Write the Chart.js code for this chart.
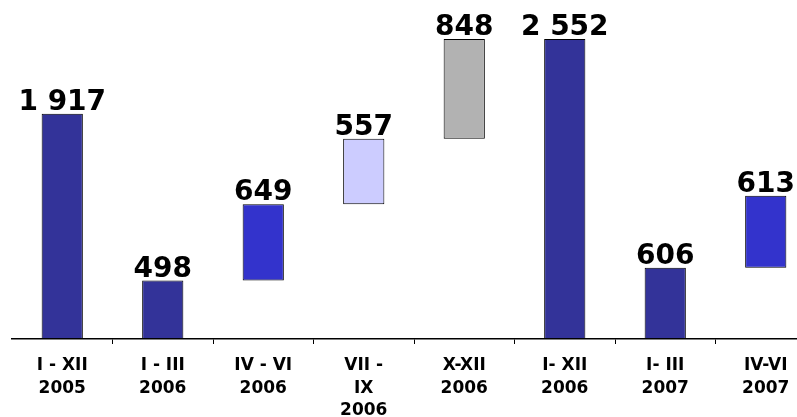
<!DOCTYPE html>
<html>
<head>
<meta charset="utf-8">
<script src="https://cdn.jsdelivr.net/npm/chart.js@4/dist/chart.umd.min.js"></script>
<style>
  html, body { margin: 0; padding: 0; background: #fff; overflow: hidden; }
  #wrap { width: 816px; height: 417px; }
</style>
</head>
<body>
<div id="wrap"><canvas id="myChart" width="816" height="417"></canvas></div>
<script>
// waterfall: each bar floats from its base
var categories = [
    ["I - XII", "2005"],
    ["I - III", "2006"],
    ["IV - VI", "2006"],
    ["VII -", "IX", "2006"],
    ["X-XII", "2006"],
    ["I- XII", "2006"],
    ["I- III", "2007"],
    ["IV-VI", "2007"]
];
var values = [1917, 498, 649, 557, 848, 2552, 606, 613];
var bases = [0, 0, 498, 1147, 1704, 0, 0, 606];
var valueLabels = ["1 917", "498", "649", "557", "848", "2 552", "606", "613"];
var barColors = ["#333399", "#333399", "#3333CC", "#CCCCFF", "#B2B2B2", "#333399", "#333399", "#3333CC"];

var floating = [];
for (var i = 0; i < values.length; i++) {
    floating.push([bases[i], bases[i] + values[i]]);
}

var topLabels = {
    id: 'topLabels',
    afterDatasetsDraw: function(chart) {
        var ctx = chart.ctx;
        var meta = chart.getDatasetMeta(0);
        ctx.save();
        ctx.font = "bold 28px 'DejaVu Sans'";
        ctx.fillStyle = "#000";
        ctx.textAlign = "center";
        ctx.textBaseline = "bottom";
        meta.data.forEach(function(bar, i) {
            ctx.fillText(valueLabels[i], bar.x, bar.y + 3);
        });
        ctx.restore();
    }
};

var ctx = document.getElementById("myChart");
var myChart = new Chart(ctx, {
    type: 'bar',
    data: {
        labels: categories,
        datasets: [{
            data: floating,
            backgroundColor: barColors,
            borderColor: "#000",
            borderWidth: 1,
            borderSkipped: false,
            barPercentage: 0.41,
            categoryPercentage: 1.0
        }]
    },
    options: {
        responsive: false,
        animation: false,
        layout: { padding: { left: 12, top: 39, right: 0, bottom: 0 } },
        plugins: {
            legend: { display: false },
            tooltip: { enabled: false }
        },
        scales: {
            x: {
                afterFit: function(scale) { scale.height = 78; },
                border: { display: true, color: "#000", width: 1.5 },
                grid: {
                    drawOnChartArea: false,
                    tickLength: 5,
                    tickColor: function(c) { return c.index === 0 ? "rgba(0,0,0,0)" : "#000"; }
                },
                ticks: {
                    color: "#000",
                    padding: 11,
                    maxRotation: 0,
                    autoSkip: false,
                    font: { family: "'DejaVu Sans'", weight: 'bold', size: 17, lineHeight: 1.3 }
                }
            },
            y: {
                display: false,
                min: 0,
                max: 2552
            }
        }
    },
    plugins: [topLabels]
});
</script>
</body>
</html>
